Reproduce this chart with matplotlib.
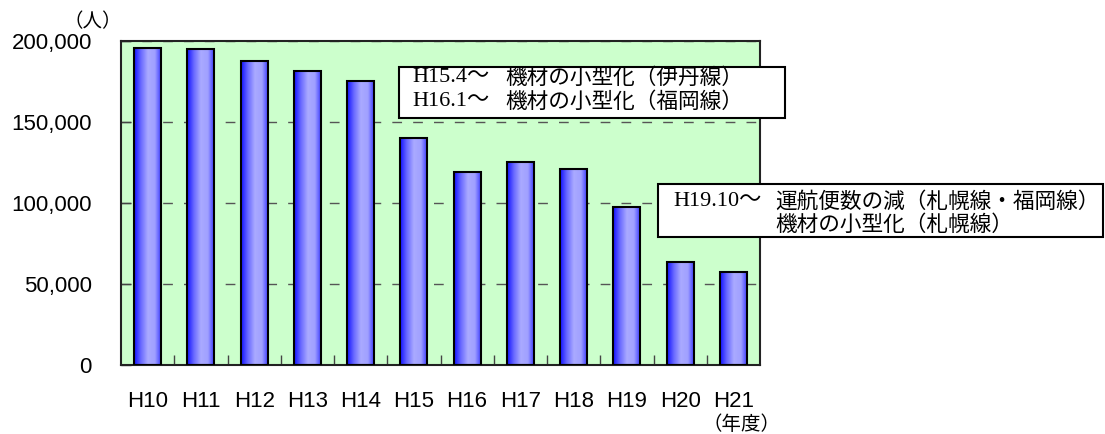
import numpy as np
import matplotlib.pyplot as plt
from matplotlib.patches import Rectangle
from matplotlib.colors import LinearSegmentedColormap

# データ
years = ['H10', 'H11', 'H12', 'H13', 'H14', 'H15', 'H16', 'H17', 'H18', 'H19', 'H20', 'H21']
users = [195900, 195000, 187800, 181700, 175500, 140100, 119000, 125100, 120800, 97300, 63800, 57600]
yticks = [0, 50000, 100000, 150000, 200000]

note1 = [('H15.4～', '機材の小型化（伊丹線）'), ('H16.1～', '機材の小型化（福岡線）')]
note2 = [('H19.10～', '運航便数の減（札幌線・福岡線）'), ('', '機材の小型化（札幌線）')]

jp_serif = ['Liberation Serif', 'Noto Sans CJK JP']
jp_sans = ['Noto Sans CJK JP', 'DejaVu Sans']

W, H = 1105, 434
fig = plt.figure(figsize=(W / 100, H / 100), dpi=100)
ax = fig.add_axes([121 / W, 1 - 365 / H, (760 - 121) / W, (365 - 41) / H])
ax.set_facecolor('#ccffcc')

x = np.arange(len(years))
bars = ax.bar(x, users, width=0.51, facecolor='none', edgecolor='black', linewidth=1.5, zorder=3)

# 棒のグラデーション（左右が濃く、中央が明るい）
cmap = LinearSegmentedColormap.from_list('bar', ['#1010ff', '#6a6aff', '#aaaaff', '#a0a0ff', '#3030ff'])
grad = np.linspace(0, 1, 256).reshape(1, -1)
for b in bars:
    x0, w, h = b.get_x(), b.get_width(), b.get_height()
    im = ax.imshow(grad, cmap=cmap, aspect='auto', extent=[x0, x0 + w, 0, h], zorder=2)
    im.set_clip_path(b)

ax.set_xlim(-0.5, len(years) - 0.5)
ax.set_ylim(0, 200000)

ax.set_yticks(yticks)
ax.set_yticklabels([f'{v:,}' for v in yticks], fontfamily='Liberation Sans', fontsize=16)
ax.tick_params(axis='y', direction='in', length=7, width=1, color='#444444', pad=21)

ax.set_xticks(x)
ax.set_xticklabels(years, fontfamily='Liberation Sans', fontsize=16)
ax.tick_params(axis='x', which='major', length=0, pad=19)
ax.set_xticks(np.arange(0.5, len(years) - 0.5), minor=True)
ax.tick_params(axis='x', which='minor', direction='in', length=7, width=1, color='#444444')

ax.yaxis.grid(True, linestyle=(0, (7, 8)), color='#555555', linewidth=1)
ax.set_axisbelow(True)
for s in ax.spines.values():
    s.set_linewidth(1.5)
    s.set_color('#222222')

# 単位
fig.text(93 / W, 1 - 22 / H, '（人）', fontfamily=jp_sans, fontsize=14, ha='center', va='center')
fig.text(741 / W, 1 - 424 / H, '（年度）', fontfamily=jp_sans, fontsize=14, ha='center', va='center')


def note(box, lines, x_pre, x_jp, ys):
    x0, y0, x1, y1 = box
    r = Rectangle((x0 / W, 1 - y1 / H), (x1 - x0) / W, (y1 - y0) / H, transform=fig.transFigure,
                  facecolor='white', edgecolor='black', linewidth=1.5, zorder=10)
    fig.add_artist(r)
    for (pre, jp), yy in zip(lines, ys):
        if pre:
            fig.text(x_pre / W, 1 - yy / H, pre, fontfamily=jp_serif, fontsize=16,
                     va='center', ha='left', zorder=11)
        fig.text(x_jp / W, 1 - yy / H, jp, fontfamily=jp_sans, fontsize=15.6,
                 va='center', ha='left', zorder=11)


# 注記ボックス
note((399, 67, 785, 118), note1, 412, 505, [78, 102])
note((658, 184, 1103, 237), note2, 673, 775, [202, 225])

fig.savefig('out.png', dpi=100)
